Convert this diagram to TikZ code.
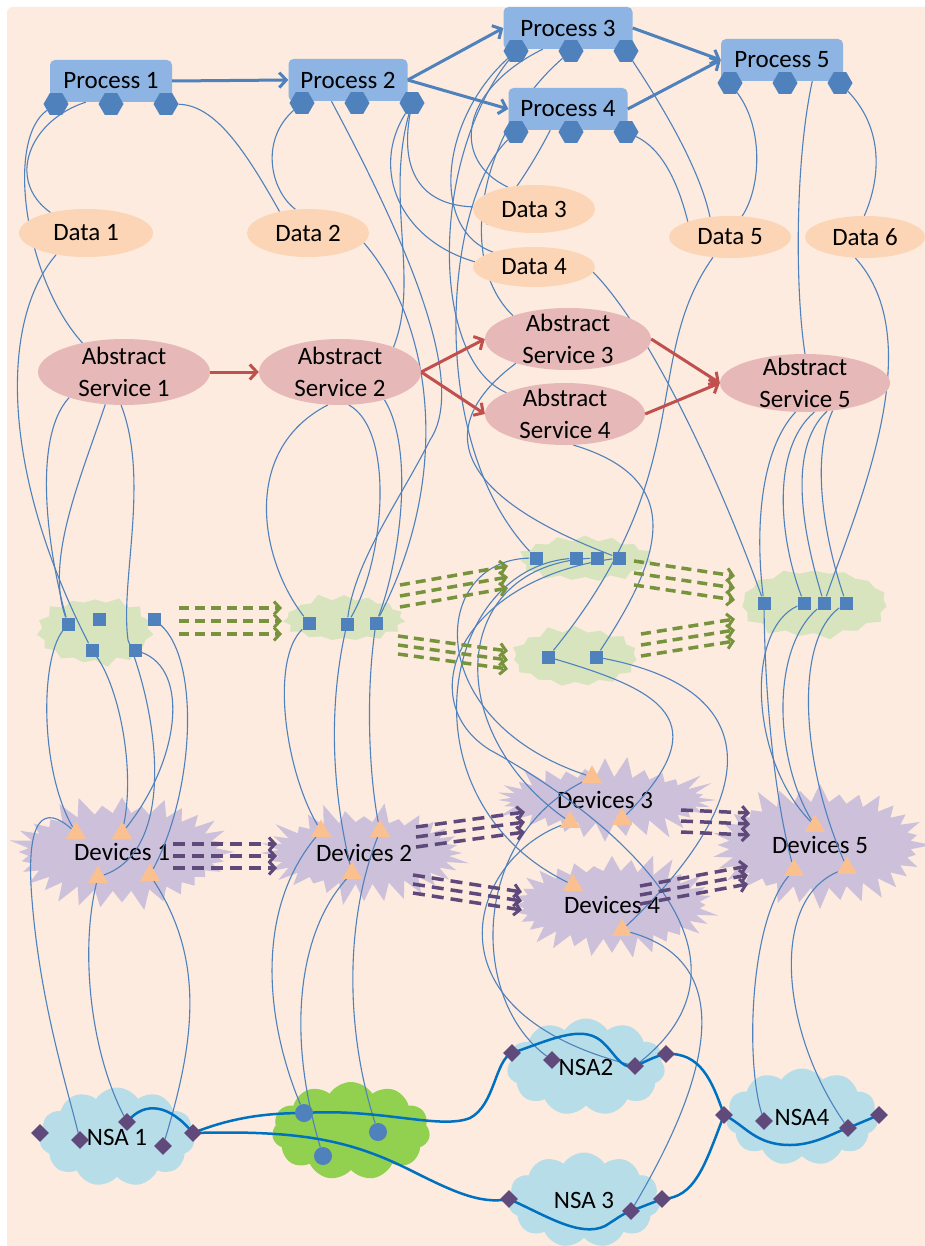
\documentclass[tikz,border=0pt]{standalone}
\usepackage{fontspec}
\setmainfont{Carlito}
\usetikzlibrary{calc,positioning,arrows.meta,shapes.geometric,shapes.symbols}
\definecolor{peach}{RGB}{252,235,222}
\definecolor{procfill}{RGB}{141,180,226}
\definecolor{hexblue}{RGB}{79,129,189}
\definecolor{datafill}{RGB}{251,213,181}
\definecolor{asfill}{RGB}{230,185,184}
\definecolor{asred}{RGB}{192,80,77}
\definecolor{gfill}{RGB}{215,228,189}
\definecolor{gdash}{RGB}{119,147,60}
\definecolor{pfill}{RGB}{204,192,218}
\definecolor{pdash}{RGB}{95,73,122}
\definecolor{triorange}{RGB}{250,192,144}
\definecolor{nsablue}{RGB}{183,221,232}
\definecolor{cloudgreen}{RGB}{146,208,80}
\definecolor{diapurple}{RGB}{96,74,123}
\definecolor{linkblue}{RGB}{0,112,192}
\pgfdeclarelayer{back}
\pgfsetlayers{back,main}
\tikzset{
  every node/.style={font=\fontsize{25}{32}\selectfont},
  procbox/.style={rectangle, rounded corners=5pt, fill=procfill, minimum height=42pt, inner sep=0pt},
  hexa/.style={regular polygon, regular polygon sides=6, minimum size=25pt, inner sep=0pt, fill=hexblue},
  dataell/.style={ellipse, fill=datafill, inner sep=0pt},
  asell/.style={ellipse, fill=asfill, inner sep=0pt},
  sq/.style={rectangle, fill=hexblue, minimum size=13pt, inner sep=0pt},
  tri/.style={regular polygon, regular polygon sides=3, fill=triorange, minimum size=23pt, inner sep=0pt},
  dia/.style={diamond, fill=diapurple, minimum size=18pt, inner sep=0pt},
  dot/.style={circle, fill=hexblue, minimum size=18pt, inner sep=0pt},
  nsa/.style={cloud, cloud puffs=11, cloud puff arc=115, cloud ignores aspect, fill=nsablue, inner sep=0pt},
  gburst/.style={starburst, starburst points=15, starburst point height=8pt, fill=gfill, inner sep=0pt},
  devburst/.style={starburst, starburst points=32, starburst point height=22pt, fill=pfill, inner sep=0pt},
  wire/.style={draw=hexblue, line width=1.1pt},
  link/.style={draw=linkblue, line width=2.5pt},
  procarrow/.style={draw=hexblue, line width=3pt, -{Straight Barb[length=7pt,width=15pt,line width=3pt]}},
  servarrow/.style={draw=asred, line width=3pt, -{Straight Barb[length=7pt,width=15pt,line width=3pt]}},
  flowdash/.style={draw=gdash, line width=3.5pt, dash pattern=on 10pt off 6pt, -{Straight Barb[length=6pt,width=13pt,line width=3pt]}},
  devdash/.style={draw=pdash, line width=3.5pt, dash pattern=on 12pt off 7pt, -{Straight Barb[length=6pt,width=13pt,line width=3pt]}}
}
\begin{document}
\begin{tikzpicture}[x=1pt,y=-1pt]
\useasboundingbox (0,0) rectangle (924,1246);
\begin{pgfonlayer}{back}
  \fill[white] (0,0) rectangle (924,1246);
  \fill[peach, rounded corners=6pt] (7,7) rectangle (934,1256);
  % green bursts
  \foreach \n/\x/\y/\w/\h/\s in {1/95/631/122/74/3, 2/344/619/128/54/5, 3/585/559/140/52/8, 4/575/657/134/66/11, 5/814/603/156/76/13}
    \node[gburst, minimum width=\w pt, minimum height=\h pt, random starburst=\s] (g\n) at (\x,\y) {};
  % device bursts
  \foreach \n/\x/\y/\w/\h/\s in {1/122/852/232/122/21, 2/364/853/215/106/23, 3/605/800/232/90/27, 4/612/905/220/112/31, 5/820/845/226/130/37}
    \node[devburst, minimum width=\w pt, minimum height=\h pt, random starburst=\s] (dev\n) at (\x,\y) {Devices \n};
  % clouds
  \node[nsa, minimum width=155pt, minimum height=99pt] (nsa1) at (117,1137) {NSA 1};
  \node[nsa, fill=cloudgreen, minimum width=158pt, minimum height=98pt] (gcl) at (351,1131) {};
  \node[nsa, minimum width=158pt, minimum height=97pt] (nsa2) at (586,1067) {NSA2};
  \node[nsa, minimum width=152pt, minimum height=95pt] (nsa3) at (584,1200) {NSA 3};
  \node[nsa, minimum width=152pt, minimum height=97pt] (nsa4) at (802,1117) {NSA4};
\end{pgfonlayer}

% processes
\foreach \n/\x/\y/\w/\hx in {1/111/81/122/56, 2/348/80/119/302, 3/568/28/129/516, 4/568/109/119/516, 5/782/60/122/730}{
  \node[procbox, minimum width=\w pt] (P\n) at (\x,\y) {Process \n};
  \foreach \h/\i in {a/0,b/1,c/2}
    \node[hexa] (p\n\h) at (\hx+55*\i,\y+23) {};
}
% data
\foreach \n/\x/\y/\w/\h in {1/86/233/134/48, 2/308/233/122/48, 3/534/209/122/48, 4/534/267/122/40, 5/730/237/122/42, 6/865/237/120/42}
  \node[dataell, minimum width=\w pt, minimum height=\h pt] (dat\n) at (\x,\y) {Data \n};
% abstract services
\foreach \n/\x/\y/\w/\h in {1/124/372/172/66, 2/340/372/162/66, 3/568/339/166/62, 4/565/414/160/62, 5/805/383/170/58}{
  \node[asell, minimum width=\w pt, minimum height=\h pt] (as\n) at (\x,\y) {};
  \node[align=center] at (as\n) {Abstract\\Service \n};
}
% service squares
\foreach \nm/\x/\y in {g1a/68/624, g1b/99/619, g1c/154/619, g1d/92/650, g1e/135/650,
  g2a/309/623, g2b/347/624, g2c/376/623,
  g3a/536/558, g3b/576/558, g3c/597/558, g3d/619/558,
  g4a/548/657, g4b/596/657,
  g5a/764/603, g5b/804/603, g5c/824/603, g5d/846/603}
  \node[sq] (\nm) at (\x,\y) {};
% device triangles
\foreach \nm/\x/\y in {dev1t1/76/833, dev1t2/122/833, dev1t3/98/877, dev1t4/150/875,
  dev2t1/321/831, dev2t2/380/831, dev2t3/352/873,
  dev3t1/592/777, dev3t2/570/822, dev3t3/622/819,
  dev4t1/573/885, dev4t2/622/930,
  dev5t1/815/826, dev5t2/794/870, dev5t3/847/868}
  \node[tri] (\nm) at (\x,\y) {};
% network diamonds and dots
\foreach \nm/\x/\y in {n1a/40/1133, n1b/80/1140, n1c/127/1122, n1d/163/1146, n1e/193/1133,
  n2a/512/1053, n2b/552/1060, n2c/635/1066, n2d/666/1054,
  n3a/509/1199, n3b/631/1211, n3c/662/1199,
  n4a/724/1115, n4b/764/1121, n4c/848/1128, n4d/879/1115}
  \node[dia] (\nm) at (\x,\y) {};
\foreach \nm/\x/\y in {c1/304/1113, c2/323/1156, c3/378/1132}
  \node[dot] (\nm) at (\x,\y) {};

% flow arrows
\draw[procarrow] (P1.east) -- (P2.west);
\draw[procarrow] (P2.east) -- (P3.west);
\draw[procarrow] (P2.east) -- (P4.west);
\draw[procarrow] (P3.east) -- (P5.west);
\draw[procarrow] (P4.east) -- (P5.west);
\draw[servarrow] (as1.east) -- (as2.west);
\draw[servarrow] (as2.east) -- (as3.west);
\draw[servarrow] (as2.east) -- (as4.west);
\draw[servarrow] (as3.east) -- (as5.west);
\draw[servarrow] (as4.east) -- (as5.west);
\foreach \ax/\ay/\bx/\by/\d in {179/621/282/621/13, 400/596/508/577/11, 398/645/508/660/9, 634/573/735/588/12, 641/645/735/630/11}
  \foreach \o in {-1,0,1}{
    \coordinate (fs) at (\ax,\ay+\o*\d);
    \coordinate (fe) at (\bx,\by+\o*\d);
    \draw[flowdash] (fs) -- (fe);
  }
\foreach \ax/\ay/\bx/\by/\d in {173/856/277/856/12, 416/837/525/822/10, 413/884/522/901/9, 681/821/750/824/11, 640/895/748/875/9}
  \foreach \o in {-1,0,1}{
    \coordinate (ds) at (\ax,\ay+\o*\d);
    \coordinate (de) at (\bx,\by+\o*\d);
    \draw[devdash] (ds) -- (de);
  }

\begin{pgfonlayer}{back}
  % process to data and services
  \draw[wire] (p1a) .. controls (5,140) and (25,280) .. (as1.145);
  \draw[wire] (P1.-140) .. controls (30,120) and (5,180) .. (dat1.150);
  \draw[wire] (p1c) .. controls (215,105) and (245,150) .. (dat2.143);
  \draw[wire] (p2a) .. controls (260,140) and (270,190) .. (dat2.118);
  \draw[wire] (P2.-128) .. controls (400,230) and (470,380) .. (430,440) .. controls (400,500) and (355,560) .. (g2b);
  \draw[wire] (p2c) .. controls (400,170) and (420,205) .. (dat3.178);
  \draw[wire] (p2c) .. controls (370,170) and (400,240) .. (dat4.175);
  \draw[wire] (p2c) .. controls (385,200) and (420,280) .. (as2.25);
  \draw[wire] (P3.-140) .. controls (460,90) and (450,160) .. (dat3.140);
  \draw[wire] (p3a) .. controls (440,120) and (430,230) .. (dat4.160);
  \draw[wire] (p3a) .. controls (430,160) and (430,360) .. (as4.160);
  \draw[wire] (p3b) .. controls (480,130) and (455,260) .. (as3.157);
  \draw[wire] (P4.-130) .. controls (530,170) and (505,205) .. (dat3.-162);
  \draw[wire] (p4a) .. controls (445,200) and (425,440) .. (g3a);
  \draw[wire] (p4c) .. controls (665,150) and (680,190) .. (dat5.160);
  \draw[wire] (p3c) .. controls (665,110) and (700,170) .. (dat5.135);
  \draw[wire] (p5a) .. controls (765,130) and (760,190) .. (dat5.60);
  \draw[wire] (P5.-35) .. controls (795,160) and (795,290) .. (as5.north);
  \draw[wire] (p5c) .. controls (885,130) and (880,180) .. (dat6.92);
  % data and services to service groups
  \draw[wire] (dat1.-144) .. controls (0,320) and (0,470) .. (g1d);
  \draw[wire] (dat2.-10) .. controls (430,320) and (455,470) .. (g2c);
  \draw[wire] (dat4.-5) .. controls (650,330) and (720,480) .. (g5a);
  \draw[wire] (dat5.-130) .. controls (640,360) and (700,470) .. (g4a);
  \draw[wire] (dat6.-115) .. controls (930,340) and (860,500) .. (g5c);
  \draw[wire] (as1.-155) .. controls (30,440) and (50,560) .. (g1a);
  \draw[wire] (as1.-120) .. controls (80,480) and (45,560) .. (g1a);
  \draw[wire] (as1.-95) .. controls (150,480) and (120,580) .. (128,640) .. controls (160,720) and (175,850) .. (dev1t3);
  \draw[wire] (as2.-110) .. controls (240,450) and (260,560) .. (g2a);
  \draw[wire] (as2.-75) .. controls (395,430) and (385,560) .. (g2b);
  \draw[wire] (as2.-32) .. controls (415,450) and (400,560) .. (g2c);
  \draw[wire] (as3.-155) .. controls (440,420) and (440,490) .. (g3d);
  \draw[wire] (as4.-75) .. controls (690,480) and (660,560) .. (g4b);
  \draw[wire] (as5.-108) .. controls (760,450) and (755,530) .. (g5a);
  \draw[wire] (as5.-72) .. controls (770,450) and (780,540) .. (g5b);
  \draw[wire] (as5.-52) .. controls (785,450) and (805,540) .. (g5c);
  \draw[wire] (as5.-45) .. controls (810,460) and (825,540) .. (g5d);
  % service groups to devices
  \draw[wire] (g1a) .. controls (40,660) and (40,770) .. (dev1t1);
  \draw[wire] (g1d) .. controls (120,690) and (135,770) .. (dev1t2);
  \draw[wire] (g1e) .. controls (190,670) and (180,760) .. (dev1t2);
  \draw[wire] (g1c) .. controls (200,660) and (195,790) .. (dev1t4);
  \draw[wire] (g2a) .. controls (270,660) and (285,770) .. (dev2t1);
  \draw[wire] (g2b) .. controls (330,700) and (330,780) .. (dev2t3);
  \draw[wire] (g2c) .. controls (365,700) and (370,780) .. (dev2t2);
  \draw[wire] (g3a) .. controls (430,560) and (420,720) .. (dev3t1);
  \draw[wire] (g3c) .. controls (450,565) and (440,730) .. (dev3t2);
  \draw[wire] (g3b) .. controls (440,570) and (400,800) .. (dev4t1);
  \draw[wire] (g3d) .. controls (460,580) and (410,700) .. (490,750) .. controls (600,810) and (780,950) .. (n2c);
  \draw[wire] (g4a) .. controls (660,690) and (720,720) .. (dev3t3);
  \draw[wire] (g4b) .. controls (770,690) and (760,800) .. (dev4t2);
  \draw[wire] (g5a) .. controls (765,700) and (775,800) .. (dev5t2);
  \draw[wire] (g5b) .. controls (745,630) and (750,760) .. (dev5t1);
  \draw[wire] (g5c) .. controls (770,650) and (775,760) .. (dev5t1);
  \draw[wire] (g5d) .. controls (795,640) and (800,760) .. (dev5t3);
  % devices to networks
  \draw[wire] (dev1t1) .. controls (45,805) and (25,815) .. (32,900) .. controls (40,1000) and (65,1080) .. (n1b);
  \draw[wire] (dev1t3) .. controls (80,950) and (90,1050) .. (n1c);
  \draw[wire] (dev1t4) .. controls (205,960) and (195,1040) .. (n1d);
  \draw[wire] (dev2t1) .. controls (255,910) and (265,1020) .. (c1);
  \draw[wire] (dev2t3) .. controls (300,930) and (285,1030) .. (c2);
  \draw[wire] (dev2t2) .. controls (345,920) and (345,1030) .. (c3);
  \draw[wire] (dev3t1) .. controls (470,840) and (470,1000) .. (n2b);
  \draw[wire] (dev3t2) .. controls (470,860) and (420,1010) .. (n2c);
  \draw[wire] (dev4t2) .. controls (730,960) and (720,1060) .. (n3b);
  \draw[wire] (dev5t2) .. controls (750,920) and (745,1060) .. (n4b);
  \draw[wire] (dev5t3) .. controls (770,900) and (780,1030) .. (n4c);
  % network links
  \draw[link] (n1c.center) .. controls (145,1100) and (170,1105) .. (n1e.center);
  \draw[link] (n1e.center) .. controls (230,1118) and (265,1113) .. (c1.center) .. controls (380,1108) and (440,1130) .. (470,1118) .. controls (495,1105) and (495,1060) .. (n2a.center);
  \draw[link] (n1e.center) .. controls (300,1130) and (350,1140) .. (410,1170) .. controls (450,1190) and (480,1205) .. (n3a.center);
  \draw[link] (n2a.center) .. controls (550,1040) and (580,1025) .. (600,1040) .. controls (615,1052) and (620,1070) .. (n2c.center);
  \draw[link] (n2c.center) .. controls (645,1062) and (655,1056) .. (n2d.center);
  \draw[link] (n2d.center) .. controls (700,1052) and (712,1080) .. (n4a.center);
  \draw[link] (n4a.center) .. controls (705,1165) and (695,1198) .. (n3c.center);
  \draw[link] (n3a.center) .. controls (545,1215) and (580,1238) .. (605,1226) .. controls (615,1220) and (622,1214) .. (n3b.center);
  \draw[link] (n3b.center) -- (n3c.center);
  \draw[link] (n4a.center) .. controls (745,1125) and (755,1145) .. (790,1145) .. controls (815,1145) and (835,1132) .. (n4c.center);
  \draw[link] (n4c.center) -- (n4d.center);
\end{pgfonlayer}
\end{tikzpicture}
\end{document}
